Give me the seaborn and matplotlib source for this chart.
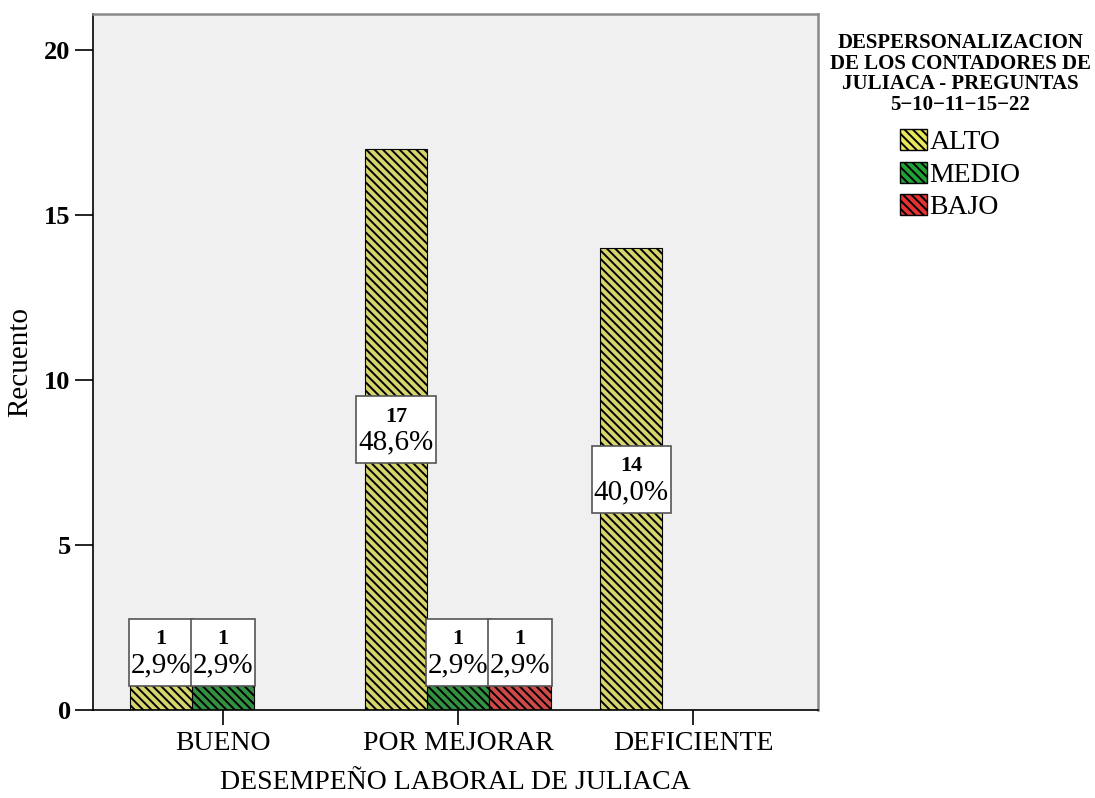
import pandas as pd
import numpy as np
import matplotlib
matplotlib.use("Agg")
import matplotlib.pyplot as plt
import seaborn as sns
from matplotlib.patches import Patch
from matplotlib.offsetbox import TextArea, VPacker, AnnotationBbox, DrawingArea

# data
categorias = ["BUENO", "POR MEJORAR", "DEFICIENTE"]
niveles = ["ALTO", "MEDIO", "BAJO"]
alto = [1, 17, 14]
medio = [1, 1, 0]
bajo = [0, 1, 0]
colores = ["#e8e65a", "#22a236", "#e63232"]

plt.rcParams['font.family'] = ['Liberation Serif', 'DejaVu Serif']
plt.rcParams['hatch.linewidth'] = 1.4

#long format table for seaborn
df = pd.DataFrame({
    "desempeno": categorias * 3,
    "nivel": [n for n in niveles for _ in categorias],
    "recuento": alto + medio + bajo,
})
total = sum(alto) + sum(medio) + sum(bajo)

fig = plt.figure(figsize=(10.95, 7.98), dpi=100)
ax = fig.add_axes([0.0849, 0.1103, 0.662, 0.872])
ax.set_facecolor("#f0f0f0")

sns.barplot(data=df, x="desempeno", y="recuento", hue="nivel",
            order=categorias, hue_order=niveles, palette=colores,
            width=0.79, edgecolor="black", linewidth=0.8, ax=ax)
ax.get_legend().remove()

hatch = "\\\\\\\\"
for cont in ax.containers:
    for bar in cont:
        bar.set_hatch(hatch)

# count / percent boxes
for cont in ax.containers:
    for bar in cont:
        v = bar.get_height()
        if v <= 0:
            continue
        pct = f"{v / total * 100:.1f}%".replace(".", ",")
        caja = VPacker(children=[
            DrawingArea(0, 4),
            TextArea(f"{int(v)}", textprops=dict(size=16, weight="bold")),
            TextArea(pct, textprops=dict(size=21)),
            DrawingArea(0, 2),
        ], align="center", pad=0, sep=2)
        y = max(v / 2, 1.75)
        ab = AnnotationBbox(caja, (bar.get_x() + bar.get_width() / 2, y),
                            frameon=True, box_alignment=(0.5, 0.5), pad=0.15,
                            bboxprops=dict(facecolor="white", edgecolor="#555555", linewidth=1.2))
        ax.add_artist(ab)

ax.set_ylim(0, 21.1)
ax.set_xlim(-0.553, 2.53)
ax.set_yticks([0, 5, 10, 15, 20])
ax.tick_params(axis="y", length=13, width=1.2, labelsize=19, pad=3)
ax.tick_params(axis="x", length=11, width=1.2, labelsize=20, pad=4)
for t in ax.get_yticklabels():
    t.set_fontweight("bold")

ax.set_xlabel("DESEMPEÑO LABORAL DE JULIACA", fontsize=20, labelpad=10)
ax.set_ylabel("Recuento", fontsize=21, labelpad=8)

for s in ["left", "bottom"]:
    ax.spines[s].set_color("black")
    ax.spines[s].set_linewidth(1.2)
for s in ["top", "right"]:
    ax.spines[s].set_color("#8a8a8a")
    ax.spines[s].set_linewidth(1.8)

handles = [Patch(facecolor=c, edgecolor="black", hatch=hatch, label=n)
           for c, n in zip(colores, niveles)]
leg = fig.legend(handles=handles, loc="upper center", bbox_to_anchor=(0.877, 0.99),
                 frameon=False, fontsize=20, handlelength=0.95, handleheight=0.8,
                 handletextpad=0.1, labelspacing=0.22, alignment="center",
                 title="DESPERSONALIZACION\nDE LOS CONTADORES DE\nJULIACA - PREGUNTAS\n5−10−11−15−22",
                 title_fontproperties=dict(size=15, weight="bold"))
leg.get_title().set_multialignment("center")
leg.get_title().set_linespacing(1.05)
leg._legend_box.sep = 10  # gap between title and entries

fig.savefig("out.png", dpi=100)
